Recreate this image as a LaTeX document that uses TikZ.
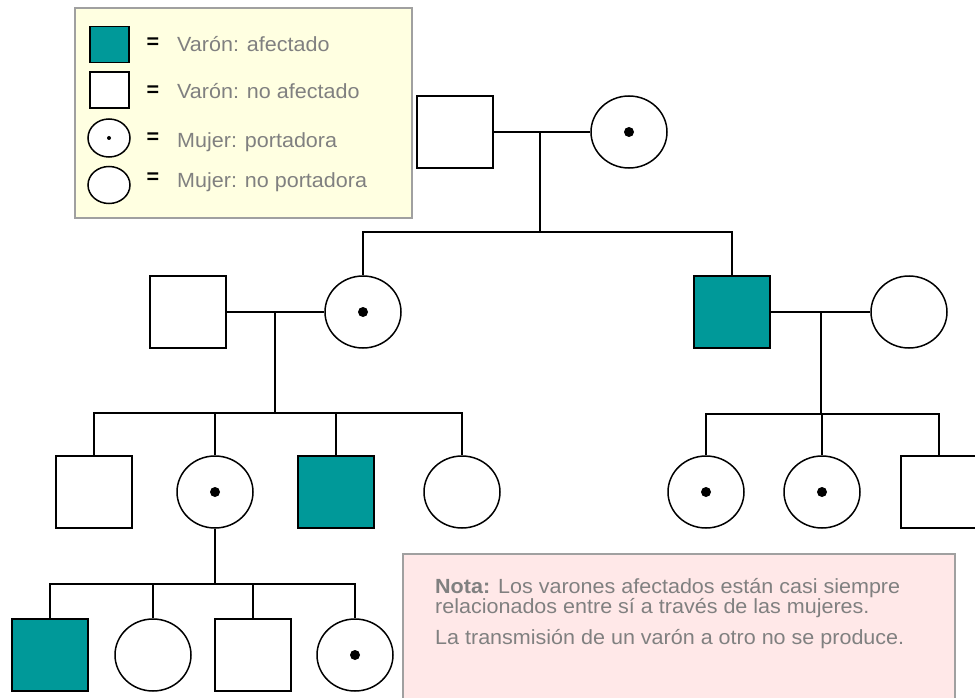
\documentclass[tikz,border=0pt]{standalone}
\usepackage{fontspec}
\setmainfont{Liberation Sans}[FakeStretch=1.05]
\usetikzlibrary{shapes.geometric}
\definecolor{afectado}{RGB}{0,153,153}
\definecolor{gris}{RGB}{128,128,128}
\definecolor{borde}{RGB}{160,160,160}
\definecolor{leyenda}{RGB}{255,255,225}
\definecolor{nota}{RGB}{255,232,232}

\begin{document}
\begin{tikzpicture}[x=1pt,y=-1pt,
  varon/.style={draw,line width=1.6pt,minimum width=76,minimum height=72,inner sep=0,fill=white},
  afect/.style={varon,fill=afectado},
  mujer/.style={draw,ellipse,line width=1.5pt,minimum width=76,minimum height=72,inner sep=0,fill=white},
  port/.style={mujer,path picture={\fill[black] (path picture bounding box.center) circle (#1);}},
  port/.default=5,
  linea/.style={line width=1.8pt},
  texto/.style={text=gris,font=\fontsize{20.5}{16}\selectfont,inner sep=0,anchor=base west},
  igual/.style={font=\fontsize{20.5}{16}\selectfont\bfseries,inner sep=0}]
\useasboundingbox (0,0) rectangle (975,698);

\draw[borde,line width=1.6pt,fill=leyenda] (75,8) rectangle (412,218);
\node[afect,minimum width=39,minimum height=36] (l1) at (109.5,44.5) {};
\node[varon,minimum width=39,minimum height=36] (l2) at (109.5,90) {};
\node[port=2,minimum width=42,minimum height=38] (l3) at (109,138) {};
\node[mujer,minimum width=42,minimum height=37] (l4) at (109,185) {};
\node[igual] (e1) at (153,43) {=};
\node[igual] (e2) at (153,91) {=};
\node[igual] (e3) at (153,138) {=};
\node[igual] (e4) at (153,178) {=};
\node[texto] (t1) at (177,52) {Varón: afectado};
\node[texto] (t2) at (177,99) {Varón: no afectado};
\node[texto] (t3) at (177,148) {Mujer: portadora};
\node[texto] (t4) at (177,188) {Mujer: no portadora};

\node[varon] (I1) at (455,132) {};
\node[port] (I2) at (629,132) {};
\coordinate (mI) at (540,132);
\coordinate (sI) at (540,232);
\draw[linea] (I1) -- (I2);
\draw[linea] (mI) -- (sI);

\node[varon] (II1) at (188,312) {};
\node[port] (II2) at (363,312) {};
\node[afect] (II3) at (732,312) {};
\node[mujer] (II4) at (909,312) {};
\draw[linea] (II2.north) |- (sI) -| (II3.north);
\coordinate (mIIa) at (275,312);
\coordinate (sIIa) at (275,413);
\coordinate (mIIb) at (821,312);
\coordinate (sIIb) at (821,414);
\draw[linea] (II1) -- (II2);
\draw[linea] (II3) -- (II4);
\draw[linea] (mIIa) -- (sIIa);
\draw[linea] (mIIb) -- (sIIb);

\node[varon] (III1) at (94,492) {};
\node[port] (III2) at (215,492) {};
\node[afect] (III3) at (336,492) {};
\node[mujer] (III4) at (462,492) {};
\node[port] (III5) at (706,492) {};
\node[port] (III6) at (822,492) {};
\node[varon] (III7) at (939,492) {};
\draw[linea] (III1.north) |- (sIIa) -| (III4.north);
\foreach \h in {III2,III3}
  \draw[linea] (\h.north) -- (\h.north |- sIIa);
\draw[linea] (III5.north) |- (sIIb) -| (III7.north);
\draw[linea] (III6.north) -- (III6.north |- sIIb);

\node[afect] (IV1) at (50,655) {};
\node[mujer] (IV2) at (153,655) {};
\node[varon] (IV3) at (253,655) {};
\node[port] (IV4) at (355,655) {};
\coordinate (sIII) at (215,584);
\draw[linea] (III2) -- (sIII);
\draw[linea] (IV1.north) |- (sIII) -| (IV4.north);
\foreach \h in {IV2,IV3}
  \draw[linea] (\h.north) -- (\h.north |- sIII);

\draw[borde,line width=1.6pt,fill=nota] (403,554) rectangle (955,705);
\node[texto] (n1) at (435,593) {\textbf{Nota:} Los varones afectados están casi siempre};
\node[texto] (n2) at (435,613) {relacionados entre sí a través de las mujeres.};
\node[texto] (n3) at (435,644) {La transmisión de un varón a otro no se produce.};
\end{tikzpicture}
\end{document}
